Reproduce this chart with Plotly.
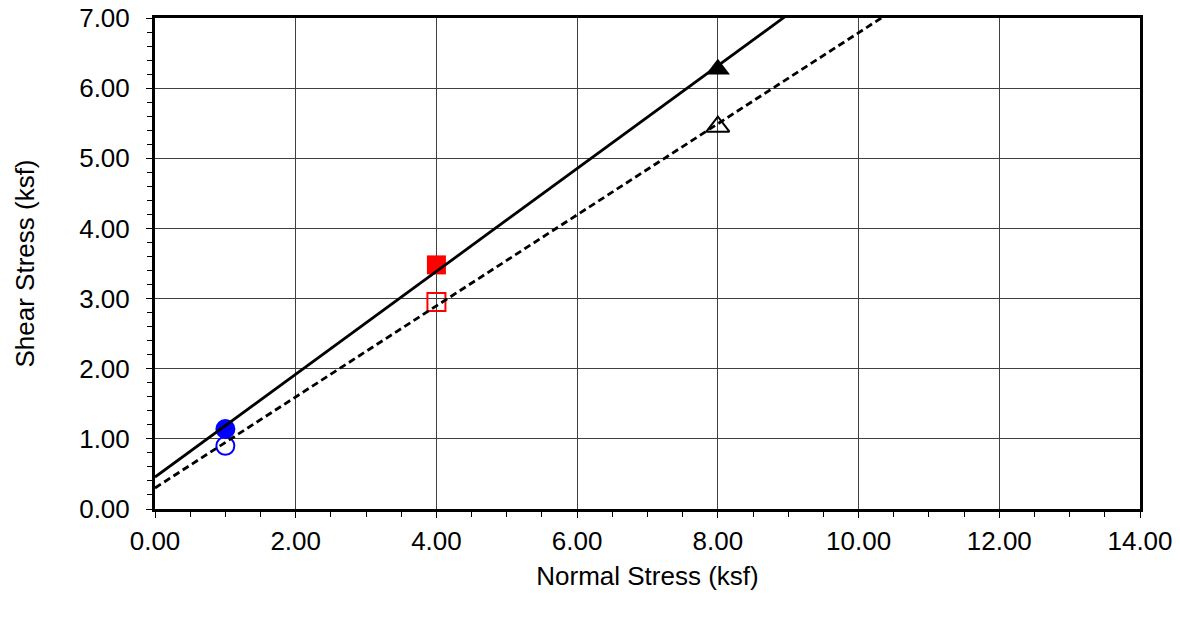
import numpy as np
import plotly.graph_objects as go

# Direct shear test results
normal_stress = [1.0, 4.0, 8.0]          # ksf
peak_shear = [1.14, 3.48, 6.27]          # ksf
residual_shear = [0.90, 2.95, 5.45]      # ksf
point_colors = ["#0000FF", "#FF0000", "#000000"]
peak_symbols = ["circle", "square", "triangle-up"]
residual_symbols = ["circle-open", "square-open", "triangle-up-open"]
peak_sizes = [20, 19, 21]
residual_sizes = [18, 18, 20]

# Mohr-Coulomb envelopes: intercept (cohesion, ksf) and slope (tan phi)
peak_cohesion = 0.456
peak_tan_phi = 0.733
residual_cohesion = 0.30
residual_tan_phi = 0.649

x_ticks = [0, 2, 4, 6, 8, 10, 12, 14]
y_ticks = [0, 1, 2, 3, 4, 5, 6, 7]

FONT = "Liberation Sans, Arial, sans-serif"
FONT_SIZE = 26

fig = go.Figure()

# Test points (drawn below the envelope lines)
fig.add_trace(go.Scatter(
    x=normal_stress, y=residual_shear, mode="markers",
    marker=dict(symbol=residual_symbols, size=residual_sizes, color=point_colors,
                opacity=1, line=dict(color=point_colors, width=2)),
    showlegend=False, hoverinfo="x+y"))
fig.add_trace(go.Scatter(
    x=normal_stress, y=peak_shear, mode="markers",
    marker=dict(symbol=peak_symbols, size=peak_sizes, color=point_colors,
                opacity=1, line=dict(width=0)),
    showlegend=False, hoverinfo="x+y"))

# Strength envelopes
env_x = np.array([0.0, 14.0])
fig.add_trace(go.Scatter(
    x=env_x, y=peak_cohesion + peak_tan_phi * env_x, mode="lines",
    line=dict(color="black", width=2.8), showlegend=False, hoverinfo="skip"))
fig.add_trace(go.Scatter(
    x=env_x, y=residual_cohesion + residual_tan_phi * env_x, mode="lines",
    line=dict(color="black", width=2.8, dash="7px,4px"),
    showlegend=False, hoverinfo="skip"))

axis_common = dict(
    showline=True, linecolor="black", linewidth=3, mirror=True,
    showgrid=True, gridcolor="#404040", gridwidth=1,
    zeroline=False, ticks="outside", ticklen=6, tickwidth=1.2, tickcolor="black",
    tickfont=dict(family=FONT, size=FONT_SIZE, color="black"),
    tickformat=".2f", automargin=False,
)

fig.update_xaxes(
    **axis_common, range=[0, 14], tickvals=x_ticks, ticklabelstandoff=1,
    minor=dict(dtick=0.5, ticks="outside", ticklen=5, tickwidth=1.2,
               tickcolor="black", showgrid=False),
    title=dict(text="Normal Stress (ksf)", standoff=12,
               font=dict(family=FONT, size=FONT_SIZE, color="black")),
)
fig.update_yaxes(
    **axis_common, range=[0, 7], tickvals=y_ticks, ticklabelstandoff=11,
    minor=dict(dtick=0.2, ticks="outside", ticklen=5, tickwidth=1.2,
               tickcolor="black", showgrid=False),
    title=dict(text="Shear Stress (ksf)", standoff=38,
               font=dict(family=FONT, size=FONT_SIZE, color="black")),
)

fig.update_layout(
    width=1180, height=617,
    margin=dict(l=155, r=40, t=18, b=108),
    paper_bgcolor="white", plot_bgcolor="white",
    font=dict(family=FONT, color="black"),
)

fig.write_html("out.html")
